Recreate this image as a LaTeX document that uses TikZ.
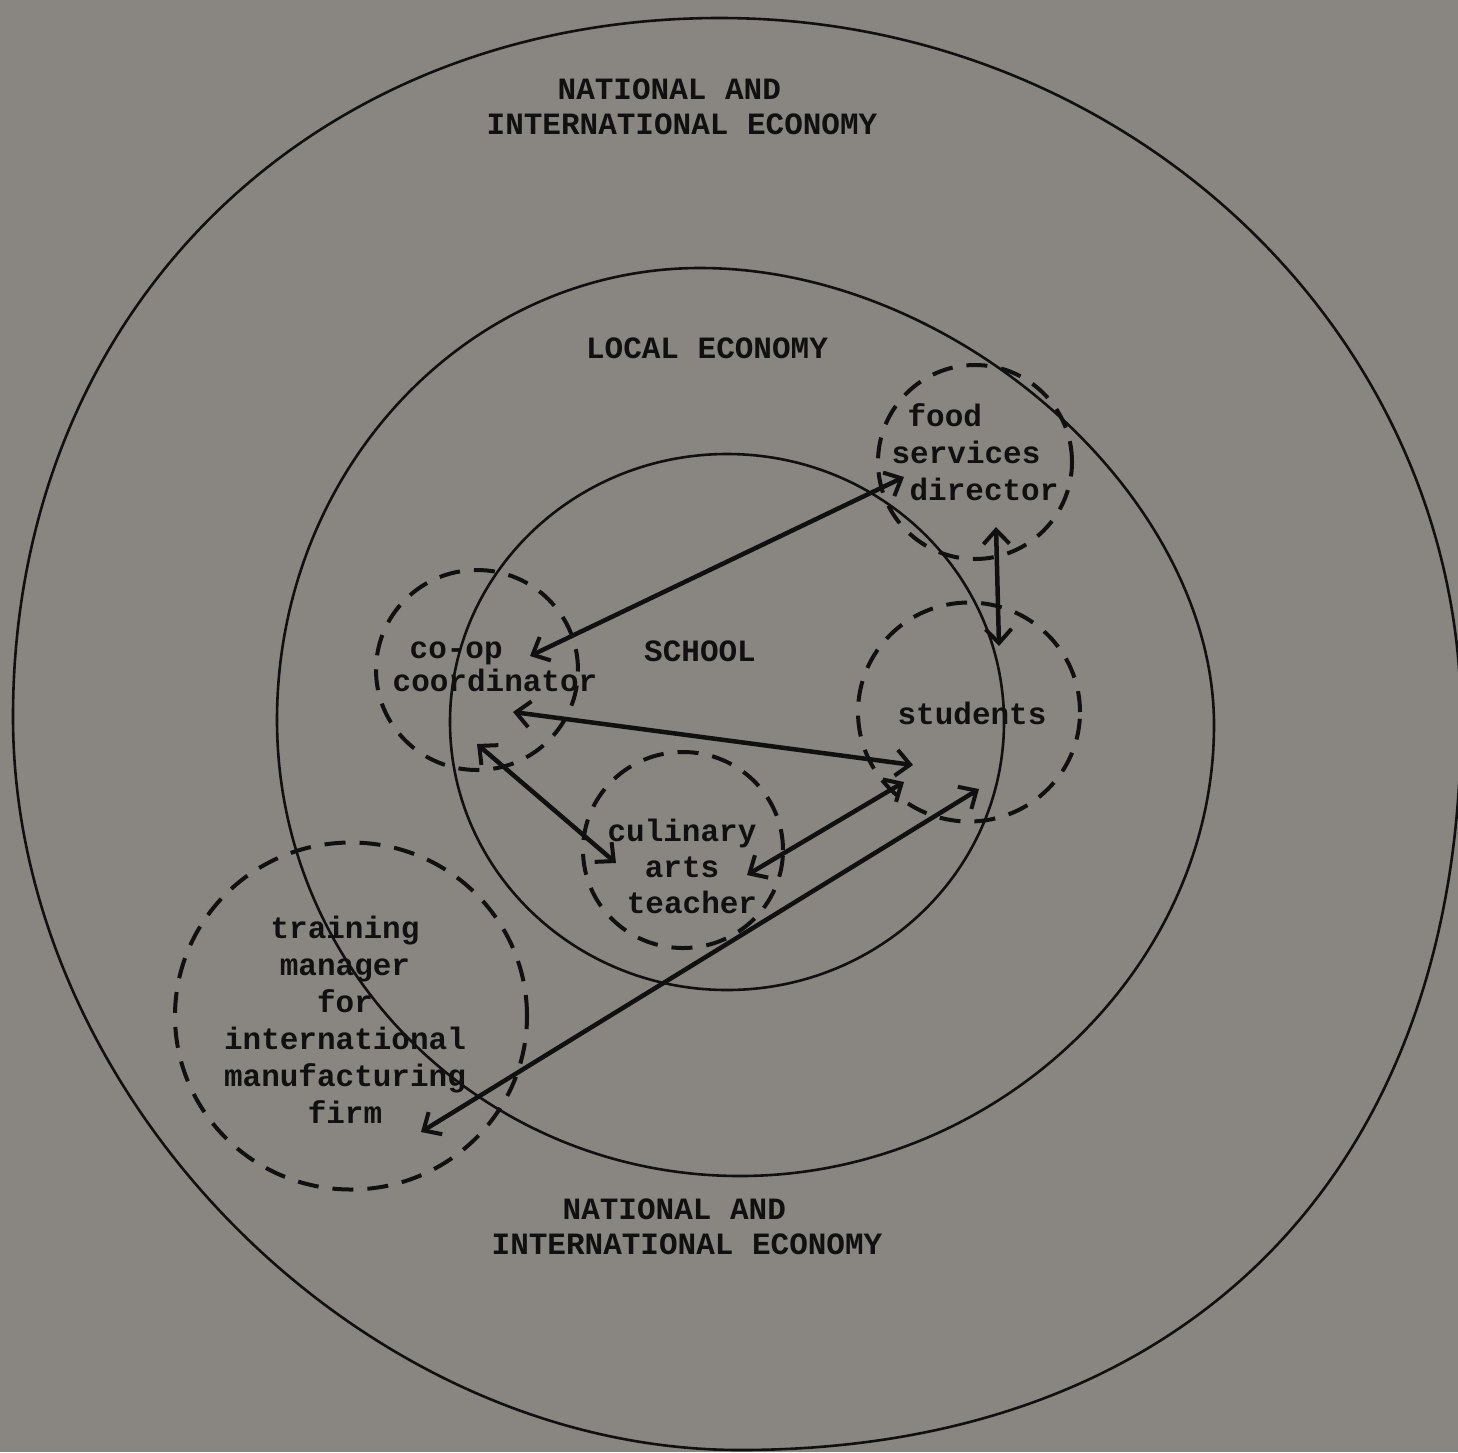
\documentclass[tikz,border=0pt]{standalone}
\usepackage{fontspec}
\setmonofont{Liberation Mono}
\usetikzlibrary{arrows.meta,shapes.geometric}
\definecolor{bg}{RGB}{137,134,129}
\definecolor{ink}{RGB}{16,16,16}
\begin{document}
\begin{tikzpicture}[x=1pt,y=-1pt,
  ring/.style={draw=ink,line width=2.6pt},
  group/.style={draw=ink,line width=4pt,dash pattern=on 21pt off 14pt,ellipse,inner sep=0pt},
  lbl/.style={text=ink,inner sep=0pt,font=\ttfamily\bfseries\fontsize{31}{37}\selectfont},
  link/.style={draw=ink,line width=4.5pt,{Straight Barb[length=14pt,width=26pt,line width=4pt]}-{Straight Barb[length=14pt,width=26pt,line width=4pt]}}]
\fill[bg] (0,0) rectangle (1458,1452);
\useasboundingbox (0,0) rectangle (1458,1452);
% outer ring: national and international economy
\draw[ring] (720,18) .. controls (1127,18) and (1461,332) .. (1461,720)
  .. controls (1461,1173) and (1185,1450) .. (740,1450)
  .. controls (362,1450) and (13,1098) .. (13,717)
  .. controls (13,312) and (310,18) .. cycle;
% middle ring: local economy
\draw[ring] (700,268) .. controls (957,268) and (1214,497) .. (1214,725)
  .. controls (1214,969) and (996,1176) .. (740,1176)
  .. controls (484,1176) and (277,972) .. (277,720)
  .. controls (277,470) and (467,268) .. cycle;
% inner ring: school
\node[ring,ellipse,inner sep=0pt,minimum width=554pt,minimum height=536pt] (school) at (727,722) {};
% dashed groups
\node[group,minimum width=194pt,minimum height=194pt] (food) at (975,462) {};
\node[group,minimum width=202pt,minimum height=200pt] (coop) at (477,670) {};
\node[group,minimum width=222pt,minimum height=219pt] (students) at (969,712) {};
\node[group,minimum width=200pt,minimum height=196pt] (culinary) at (683,850) {};
\node[group,minimum width=352pt,minimum height=347pt] (training) at (351,1016) {};
% labels
\node[lbl,align=left,font=\ttfamily\bfseries\fontsize{31}{35}\selectfont] (ntop) at (682,107) {\hspace{71pt}NATIONAL AND\\INTERNATIONAL ECONOMY};
\node[lbl,align=left,font=\ttfamily\bfseries\fontsize{31}{35}\selectfont] (nbot) at (687,1227) {\hspace{71pt}NATIONAL AND\\INTERNATIONAL ECONOMY};
\node[lbl] (localt) at (707,348) {LOCAL ECONOMY};
\node[lbl] (schoolt) at (700,651) {SCHOOL};
\node[lbl,align=left] (foodt) at (975,452) {\hspace{16pt}food\\services\\\hspace{18pt}director};
\node[lbl,align=left,font=\ttfamily\bfseries\fontsize{31}{33}\selectfont] (coopt) at (495,667) {\hspace{17pt}co-op\\coordinator};
\node[lbl] (studentst) at (972,713) {students};
\node[lbl,align=center,font=\ttfamily\bfseries\fontsize{31}{36}\selectfont] (culinaryt) at (682,866) {culinary\\arts\\\hspace{20pt}teacher};
\node[lbl,align=center] (trainingt) at (345,1020) {training\\manager\\for\\international\\manufacturing\\firm};
% arrow end points
\coordinate (c1) at (530,656);
\coordinate (f1) at (904,477);
\coordinate (f2) at (996,527);
\coordinate (s2) at (999,646);
\coordinate (c3) at (513,712);
\coordinate (s3) at (913,765);
\coordinate (c4) at (477,744);
\coordinate (k4) at (616,863);
\coordinate (k5) at (747,875);
\coordinate (s5) at (904,782);
\coordinate (t6) at (421,1132);
\coordinate (s6) at (979,789);
\draw[link] (c1) -- (f1);
\draw[link] (f2) -- (s2);
\draw[link] (c3) -- (s3);
\draw[link] (c4) -- (k4);
\draw[link] (k5) -- (s5);
\draw[link] (t6) -- (s6);
\end{tikzpicture}
\end{document}
